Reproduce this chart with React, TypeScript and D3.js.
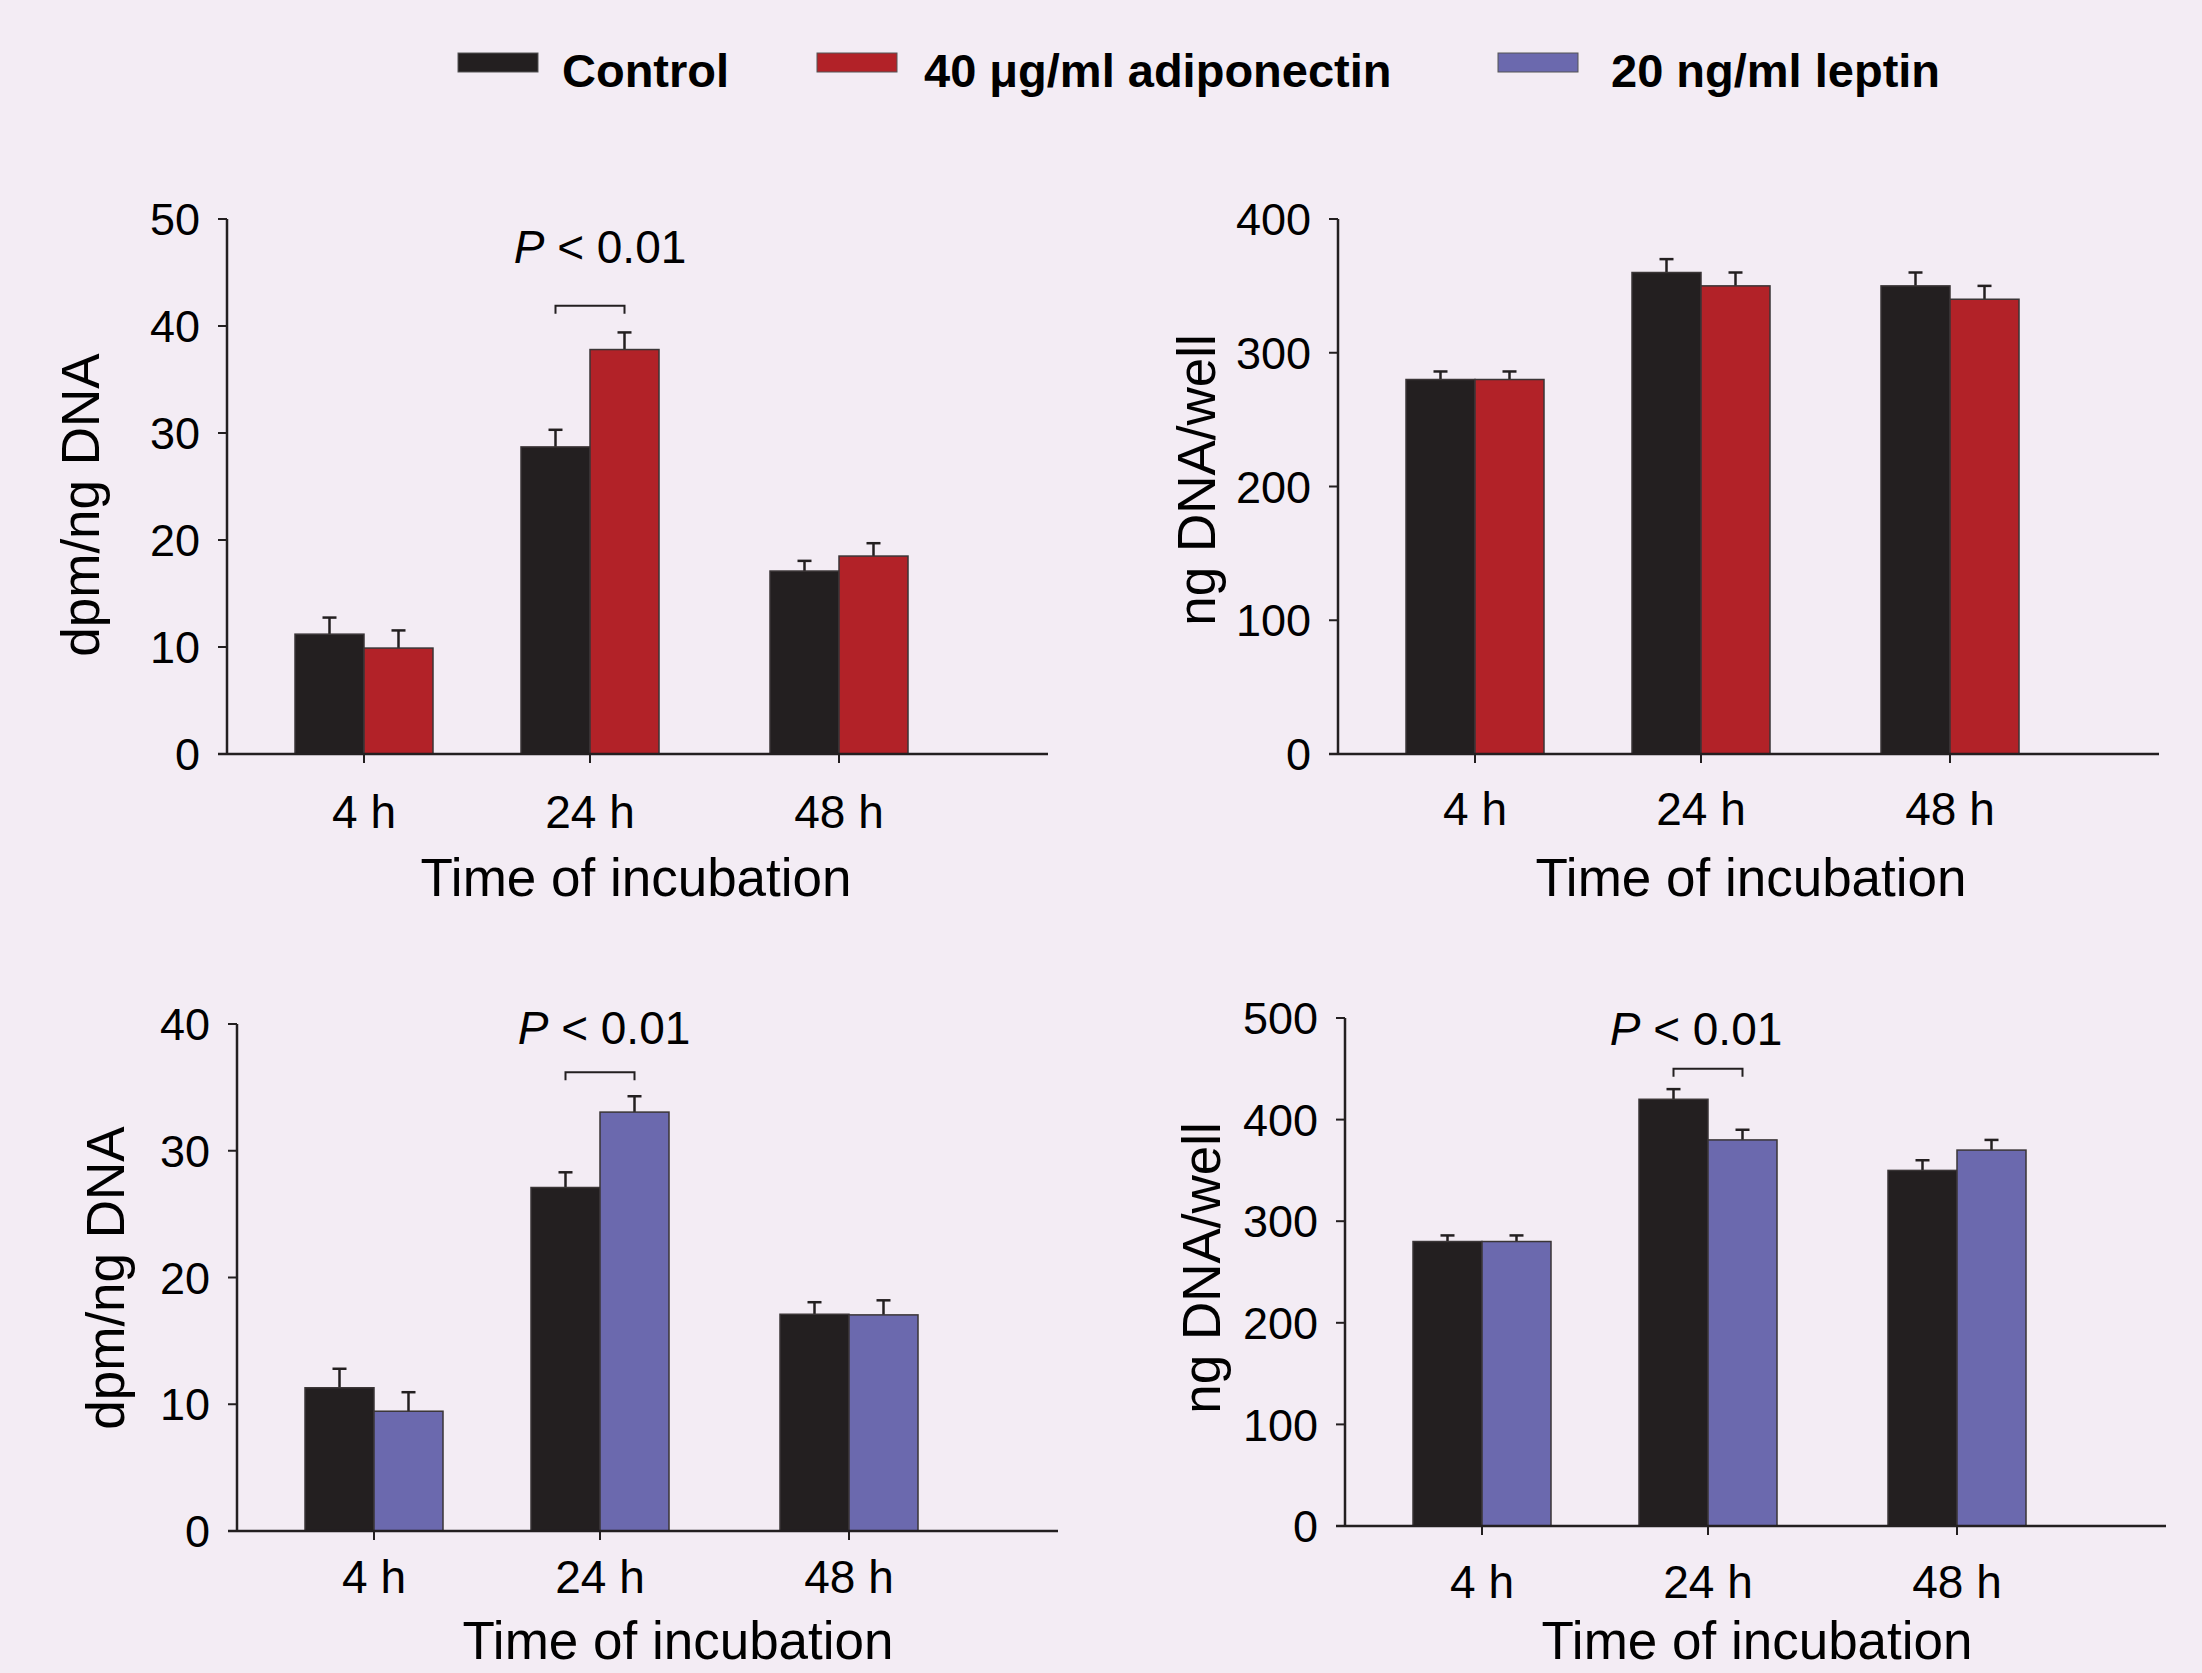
import * as d3 from 'd3';
import { useEffect, useRef } from 'react';

// categories
const timePoints = ['4 h', '24 h', '48 h'];

// adiponectin experiment (top row)
const adipoUptakeControl = [11.2, 28.7, 17.1];
const adipoUptakeControlErr = [1.55, 1.6, 0.95];
const adipoUptakeTreated = [9.9, 37.8, 18.5];
const adipoUptakeTreatedErr = [1.65, 1.6, 1.2];
const adipoDnaControl = [280, 360, 350];
const adipoDnaControlErr = [6, 10, 10];
const adipoDnaTreated = [280, 350, 340];
const adipoDnaTreatedErr = [6, 10, 10];

// leptin experiment (bottom row)
const leptinUptakeControl = [11.3, 27.1, 17.1];
const leptinUptakeControlErr = [1.5, 1.2, 0.95];
const leptinUptakeTreated = [9.45, 33.05, 17.05];
const leptinUptakeTreatedErr = [1.5, 1.25, 1.15];
const leptinDnaControl = [280, 420, 350];
const leptinDnaControlErr = [6, 10, 10];
const leptinDnaTreated = [280, 380, 370];
const leptinDnaTreatedErr = [6, 10, 10];

// tick values
const uptakeTicksTop = [0, 10, 20, 30, 40, 50];
const dnaTicksTop = [0, 100, 200, 300, 400];
const uptakeTicksBottom = [0, 10, 20, 30, 40];
const dnaTicksBottom = [0, 100, 200, 300, 400, 500];

const legendLabels = ['Control', '40 μg/ml adiponectin', '20 ng/ml leptin'];

const BG = '#f3ecf4';
const INK = '#231f20';
const BLACK_BAR = '#231f20';
const RED = '#b22228';
const BLUE = '#6b69ae';
const FONT = '"Liberation Sans", Arial, sans-serif';

export default function App() {
  const svgRef = useRef<SVGSVGElement>(null);

  useEffect(() => {
    if (!svgRef.current) return;
    const root = d3.select(svgRef.current);
    root.selectAll('*').remove();

    root.append('rect').attr('width', 2202).attr('height', 1673).attr('fill', BG);

    // legend
    const legendX = [458, 817, 1498];
    const legendTextX = [562, 924, 1611];
    const legendColors = [BLACK_BAR, RED, BLUE];
    legendLabels.forEach((lab, i) => {
      root
        .append('rect')
        .attr('x', legendX[i])
        .attr('y', 53)
        .attr('width', 80)
        .attr('height', 19)
        .attr('fill', legendColors[i])
        .attr('stroke', '#555')
        .attr('stroke-width', 1);
      root
        .append('text')
        .attr('x', legendTextX[i])
        .attr('y', 87)
        .attr('font-family', FONT)
        .attr('font-weight', 'bold')
        .attr('font-size', 47)
        .attr('fill', '#000')
        .text(lab);
    });

    const panels = [
      {
        left: 227, top: 219, bottom: 754, yMax: 50, ticks: uptakeTicksTop,
        control: adipoUptakeControl, controlErr: adipoUptakeControlErr,
        treated: adipoUptakeTreated, treatedErr: adipoUptakeTreatedErr,
        color: RED, yLabel: 'dpm/ng DNA', yLabelX: 80, yLabelY: 505,
        tickLabelY: 828, titleY: 896, titleX: 636,
        sig: { value: 41.9, textY: 263, textDx: 10 },
      },
      {
        left: 1338, top: 219, bottom: 754, yMax: 400, ticks: dnaTicksTop,
        control: adipoDnaControl, controlErr: adipoDnaControlErr,
        treated: adipoDnaTreated, treatedErr: adipoDnaTreatedErr,
        color: RED, yLabel: 'ng DNA/well', yLabelX: 1196, yLabelY: 480,
        tickLabelY: 825, titleY: 896, titleX: 1751,
        sig: null,
      },
      {
        left: 237, top: 1024, bottom: 1531, yMax: 40, ticks: uptakeTicksBottom,
        control: leptinUptakeControl, controlErr: leptinUptakeControlErr,
        treated: leptinUptakeTreated, treatedErr: leptinUptakeTreatedErr,
        color: BLUE, yLabel: 'dpm/ng DNA', yLabelX: 105, yLabelY: 1278,
        tickLabelY: 1593, titleY: 1659, titleX: 678,
        sig: { value: 36.2, textY: 1044, textDx: 4 },
      },
      {
        left: 1345, top: 1018, bottom: 1526, yMax: 500, ticks: dnaTicksBottom,
        control: leptinDnaControl, controlErr: leptinDnaControlErr,
        treated: leptinDnaTreated, treatedErr: leptinDnaTreatedErr,
        color: BLUE, yLabel: 'ng DNA/well', yLabelX: 1201, yLabelY: 1268,
        tickLabelY: 1598, titleY: 1659, titleX: 1757,
        sig: { value: 450, textY: 1045, textDx: -12 },
      },
    ];

    const axisLen = 821;
    const barW = 69;

    panels.forEach((p) => {
      const g = root.append('g');
      const x = d3
        .scaleOrdinal<string, number>()
        .domain(timePoints)
        .range([p.left + 137, p.left + 363, p.left + 612]);
      const y = d3.scaleLinear().domain([0, p.yMax]).range([p.bottom, p.top]);

      // bars: control left of tick, treated right of tick
      const series = [
        { vals: p.control, errs: p.controlErr, fill: BLACK_BAR, off: -barW },
        { vals: p.treated, errs: p.treatedErr, fill: p.color, off: 0 },
      ];
      series.forEach((s) => {
        timePoints.forEach((t, i) => {
          const bx = x(t) + s.off;
          const cx = bx + barW / 2;
          // error bar (upper only)
          g.append('line')
            .attr('x1', cx).attr('x2', cx)
            .attr('y1', y(s.vals[i])).attr('y2', y(s.vals[i] + s.errs[i]))
            .attr('stroke', INK).attr('stroke-width', 2.5);
          g.append('line')
            .attr('x1', cx - 7).attr('x2', cx + 7)
            .attr('y1', y(s.vals[i] + s.errs[i])).attr('y2', y(s.vals[i] + s.errs[i]))
            .attr('stroke', INK).attr('stroke-width', 2.5);
          g.append('rect')
            .attr('x', bx)
            .attr('y', y(s.vals[i]))
            .attr('width', barW)
            .attr('height', y(0) - y(s.vals[i]))
            .attr('fill', s.fill)
            .attr('stroke', '#3a3536')
            .attr('stroke-width', 1.5);
        });
      });

      // y axis
      g.append('line')
        .attr('x1', p.left).attr('x2', p.left)
        .attr('y1', y(0)).attr('y2', y(p.yMax))
        .attr('stroke', INK).attr('stroke-width', 2.5);
      p.ticks.forEach((t) => {
        g.append('line')
          .attr('x1', p.left - 9).attr('x2', p.left)
          .attr('y1', y(t)).attr('y2', y(t))
          .attr('stroke', INK).attr('stroke-width', 2);
        g.append('text')
          .attr('x', p.left - 27)
          .attr('y', y(t))
          .attr('dy', '0.36em')
          .attr('text-anchor', 'end')
          .attr('font-family', FONT)
          .attr('font-size', 45)
          .attr('fill', '#000')
          .text(t);
      });

      // x axis
      g.append('line')
        .attr('x1', p.left - 9).attr('x2', p.left + axisLen)
        .attr('y1', y(0)).attr('y2', y(0))
        .attr('stroke', INK).attr('stroke-width', 2.5);
      timePoints.forEach((t) => {
        g.append('line')
          .attr('x1', x(t)).attr('x2', x(t))
          .attr('y1', y(0)).attr('y2', y(0) + 9)
          .attr('stroke', INK).attr('stroke-width', 2);
        g.append('text')
          .attr('x', x(t))
          .attr('y', p.tickLabelY)
          .attr('text-anchor', 'middle')
          .attr('font-family', FONT)
          .attr('font-size', 46)
          .attr('fill', '#000')
          .text(t);
      });

      g.append('text')
        .attr('x', p.titleX)
        .attr('y', p.titleY)
        .attr('text-anchor', 'middle')
        .attr('font-family', FONT)
        .attr('font-size', 53)
        .attr('fill', '#000')
        .text('Time of incubation');

      g.append('text')
        .attr('transform', `translate(${p.yLabelX},${p.yLabelY}) rotate(-90)`)
        .attr('dy', '0.36em')
        .attr('text-anchor', 'middle')
        .attr('font-family', FONT)
        .attr('font-size', 53)
        .attr('fill', '#000')
        .text(p.yLabel);

      if (p.sig) {
        const mid = x(timePoints[1]);
        const x1 = mid - barW / 2;
        const x2 = mid + barW / 2;
        const by = y(p.sig.value);
        g.append('path')
          .attr('d', `M${x1},${by + 8}V${by}H${x2}V${by + 8}`)
          .attr('fill', 'none')
          .attr('stroke', INK)
          .attr('stroke-width', 2);
        const txt = g
          .append('text')
          .attr('x', mid + p.sig.textDx)
          .attr('y', p.sig.textY)
          .attr('text-anchor', 'middle')
          .attr('font-family', FONT)
          .attr('font-size', 46)
          .attr('fill', '#000');
        txt.append('tspan').attr('font-style', 'italic').text('P');
        txt.append('tspan').text(' < 0.01');
      }
    });
  }, []);

  return (
    <svg
      ref={svgRef}
      width={2202}
      height={1673}
      style={{ position: 'absolute', left: 0, top: 0, display: 'block' }}
    />
  );
}
